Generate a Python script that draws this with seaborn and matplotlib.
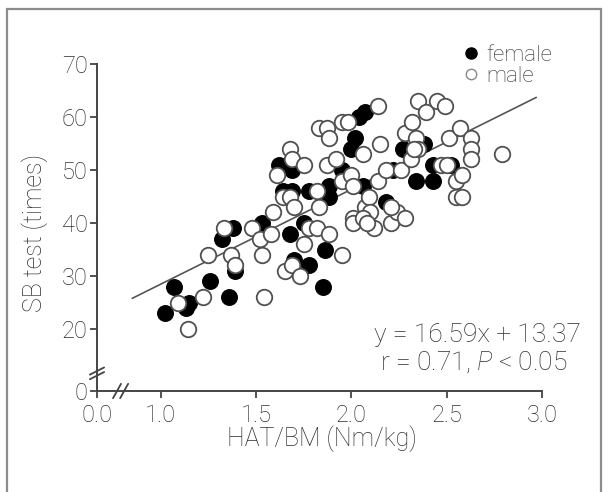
import matplotlib
matplotlib.use('Agg')
import matplotlib.pyplot as plt
from matplotlib.patches import Rectangle
from matplotlib.lines import Line2D
import seaborn as sns
import pandas as pd

# ---- data ----
female_x = [1.02, 1.07, 1.13, 1.15, 1.26, 1.32, 1.36, 1.38, 1.39, 1.53, 1.62, 1.64, 1.69, 1.69,
            1.68, 1.70, 1.75, 1.78, 1.85, 1.86, 1.78, 1.87, 1.88, 1.88, 1.95, 2.00, 2.02, 2.04,
            2.07, 2.06, 2.18, 2.22, 2.27, 2.34, 2.38, 2.43, 2.43, 2.52]
female_y = [23, 28, 24, 25, 29, 37, 26, 39, 31, 40, 51, 46, 46, 50,
            38, 33, 40, 32, 28, 35, 46, 46, 45, 47, 50, 54, 56, 60,
            61, 47, 44, 50, 54, 48, 55, 48, 51, 51]

male_x = [1.09, 1.14, 1.22, 1.25, 1.33, 1.37, 1.39, 1.48, 1.52, 1.53, 1.54, 1.58, 1.59, 1.61,
          1.65, 1.64, 1.68, 1.69, 1.68, 1.69, 1.70, 1.73, 1.75, 1.75, 1.78, 1.83, 1.83, 1.82,
          1.87, 1.88, 1.88, 1.82, 1.87, 1.92, 1.95, 1.95, 1.98, 1.95, 2.00, 2.01, 2.01, 2.01,
          2.06, 2.07, 2.09, 2.10, 2.12, 2.14, 2.15, 2.14, 2.18, 2.21, 2.24, 2.28, 2.26, 2.28,
          2.32, 2.31, 2.34, 2.35, 2.35, 2.39, 2.33, 2.45, 2.49, 2.47, 2.50, 2.51, 2.55, 2.57,
          2.55, 2.58, 2.58, 2.63, 2.63, 2.63, 2.79, 2.06, 2.08, 2.21]
male_y = [25, 20, 26, 34, 39, 34, 32, 39, 37, 34, 26, 38, 42, 49,
          31, 45, 54, 52, 45, 32, 43, 30, 36, 51, 39, 58, 43, 39,
          58, 56, 38, 46, 51, 52, 34, 59, 59, 48, 49, 41, 40, 47,
          53, 43, 45, 42, 39, 62, 55, 48, 50, 40, 42, 41, 50, 57,
          59, 52, 56, 63, 54, 61, 54, 63, 62, 51, 51, 56, 48, 58,
          45, 45, 49, 56, 54, 52, 53, 41, 40, 43]

# fitted line as drawn
line_x = [0.85, 2.97]
line_y = [25.8, 63.7]

x_ticks = [0.665, 1.0, 1.5, 2.0, 2.5, 3.0]
x_labels = ['0.0', '1.0', '1.5', '2.0', '2.5', '3.0']
y_ticks = [8.32, 20, 30, 40, 50, 60, 70]
y_labels = ['0', '20', '30', '40', '50', '60', '70']

female = pd.DataFrame({'x': female_x, 'y': female_y})
male = pd.DataFrame({'x': male_x, 'y': male_y})

# ---- style ----
sns.set_style('ticks')
txt = '#2e2e2e'
plt.rcParams['font.family'] = ['Roboto', 'DejaVu Sans']
plt.rcParams['font.weight'] = 'light'
plt.rcParams['axes.labelweight'] = 'light'
plt.rcParams['mathtext.fontset'] = 'custom'
plt.rcParams['mathtext.it'] = 'Roboto:italic:light'
plt.rcParams['mathtext.rm'] = 'Roboto:light'

fig = plt.figure(figsize=(6.08, 4.92), dpi=100)
ax = fig.add_axes([97 / 608, 1 - 391 / 492, 445 / 608, 327 / 492])

sns.scatterplot(data=female, x='x', y='y', ax=ax, s=125, color='black',
                edgecolor='black', linewidth=1.0, zorder=3)
sns.scatterplot(data=male, x='x', y='y', ax=ax, s=125, color='white',
                edgecolor='#505050', linewidth=1.3, zorder=3)
sns.lineplot(x=line_x, y=line_y, ax=ax, color='#555555', linewidth=1.2, zorder=2)

ax.set_xlim(x_ticks[0], 3.0)
ax.set_ylim(y_ticks[0], 70)
ax.set_xticks(x_ticks)
ax.set_xticklabels(x_labels)
ax.set_yticks(y_ticks)
ax.set_yticklabels(y_labels)
ax.tick_params(colors='#444444', labelcolor=txt, labelsize=17, length=5, width=1.3, pad=1.5)
ax.tick_params(axis='x', pad=4)
for side in ['left', 'bottom']:
    ax.spines[side].set_color('#444444')
    ax.spines[side].set_linewidth(1.4)
sns.despine(ax=ax)

ax.set_xlabel('HAT/BM (Nm/kg)', fontsize=18, color=txt)
ax.set_ylabel('SB test (times)', fontsize=18, color=txt)
ax.xaxis.set_label_coords(0.506, -0.105)
ax.yaxis.set_label_coords(-0.11, 0.483)

# axis break marks
kw = dict(transform=ax.transAxes, color='#444444', lw=1.3, clip_on=False)
for dy in [0.0, 0.014]:
    ax.plot([-0.016, 0.016], [0.036 + dy, 0.058 + dy], **kw)
for dx in [0.0, 0.016]:
    ax.plot([0.036 + dx, 0.054 + dx], [-0.022, 0.022], **kw)

ax.text(0.856, 0.171, 'y = 16.59x + 13.37', transform=ax.transAxes,
        ha='center', va='center', fontsize=19, color=txt)
ax.text(0.846, 0.089, r'r = 0.71, $P$ < 0.05', transform=ax.transAxes,
        ha='center', va='center', fontsize=19, color=txt)

handles = [Line2D([], [], marker='o', ls='none', markersize=8, markerfacecolor='black',
                  markeredgecolor='black'),
           Line2D([], [], marker='o', ls='none', markersize=7.5, markerfacecolor='white',
                  markeredgecolor='#888888', markeredgewidth=1.0)]
leg = fig.legend(handles, ['female', 'male'], loc='upper left',
                 bbox_to_anchor=(464 / 608, 1 - 45 / 492), frameon=False,
                 fontsize=16, handlelength=0.6, handletextpad=0.4,
                 labelspacing=0.0, borderpad=0.0, borderaxespad=0.0)
for t in leg.get_texts():
    t.set_color(txt)

fig.patches.append(Rectangle((7 / 608, -0.05), (601 - 7) / 608, (492 - 9) / 492 + 0.05,
                             transform=fig.transFigure, fill=False,
                             edgecolor='#8c8c8c', linewidth=1.6))

fig.savefig('out.png', dpi=100)
